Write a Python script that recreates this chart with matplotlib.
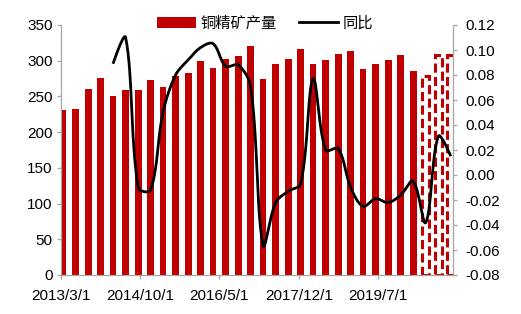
import matplotlib
matplotlib.use("Agg")
import matplotlib.pyplot as plt
import matplotlib.dates as mdates
import numpy as np
import pandas as pd
from matplotlib.patches import Patch
from matplotlib.lines import Line2D

plt.rcParams["font.family"] = ["Liberation Sans", "Noto Sans CJK SC"]

# quarterly copper concentrate output (last 3 quarters = forecast, dashed)
quarters = pd.date_range("2013-03-01", "2020-12-01", freq="3MS")
output = [231, 233, 261, 276, 251, 259, 259, 273, 263, 279, 283, 300, 290, 303, 307, 320,
          274, 295, 303, 317, 295, 301, 309, 314, 288, 295, 301, 308, 286,
          278, 308, 308]
n_actual = 29

# year-over-year change, starts one year after the first quarter
yoy_start = 4
yoy = [0.089, 0.110, -0.010, -0.012, 0.050, 0.080, 0.092, 0.102,
       0.105, 0.087, 0.088, 0.070, -0.056, -0.022, -0.013, -0.007,
       0.077, 0.020, 0.021, -0.010, -0.025, -0.019, -0.022, -0.016,
       -0.005, -0.038, 0.031, 0.015]

tick_dates = ["2013-03-01", "2014-10-01", "2016-05-01", "2017-12-01", "2019-07-01"]
left_ticks = [0, 50, 100, 150, 200, 250, 300, 350]
right_ticks = [-0.08, -0.06, -0.04, -0.02, 0.00, 0.02, 0.04, 0.06, 0.08, 0.10, 0.12]

RED = "#C00000"
GREY = "#A6A6A6"


def smooth(x, y, sx=1.0, sy=1.0, t=0.35, k=30):
    # bezier smoothing with control points weighted by segment length
    # (works in roughly pixel units so steep/flat parts behave like Excel)
    P = np.column_stack([np.asarray(x, float) * sx, np.asarray(y, float) * sy])
    n = len(P)
    c_in = P.copy()
    c_out = P.copy()
    for i in range(1, n - 1):
        d01 = np.hypot(*(P[i] - P[i - 1]))
        d12 = np.hypot(*(P[i + 1] - P[i]))
        tan = P[i + 1] - P[i - 1]
        c_in[i] = P[i] - t * d01 / (d01 + d12) * tan
        c_out[i] = P[i] + t * d12 / (d01 + d12) * tan
    u = np.linspace(0, 1, k, endpoint=False)[:, None]
    pts = []
    for i in range(n - 1):
        p0, p1, p2, p3 = P[i], c_out[i], c_in[i + 1], P[i + 1]
        pts.append((1 - u) ** 3 * p0 + 3 * (1 - u) ** 2 * u * p1
                   + 3 * (1 - u) * u ** 2 * p2 + u ** 3 * p3)
    pts.append(P[-1:])
    pts = np.vstack(pts)
    return pts[:, 0] / sx, pts[:, 1] / sy


fig = plt.figure(figsize=(5.21, 3.14), dpi=100)
ax = fig.add_axes([61 / 521, 1 - 275 / 314, (453 - 61) / 521, 250 / 314])
ax2 = ax.twinx()

# bars sit in the middle of their month on the date axis
xpos = mdates.date2num(quarters + pd.Timedelta(days=15))
ax.bar(xpos[:n_actual], output[:n_actual], width=49, color=RED, zorder=2)
ax.bar(xpos[n_actual:], output[n_actual:], width=49, fill=False, edgecolor=RED,
       linewidth=2.2, linestyle=(0, (3.0, 1.4)), zorder=2)

# pixel scale: ~0.137 px per day, 1250 px per unit of yoy
lx, ly = smooth(xpos[yoy_start:], yoy, sx=0.137, sy=1250)
ax2.plot(lx, ly, color="black", linewidth=2.0, solid_capstyle="butt")

ax.set_xlim(mdates.date2num(pd.Timestamp("2013-03-01")),
            mdates.date2num(pd.Timestamp("2021-01-01")))
ax.set_ylim(0, 350)
ax2.set_ylim(-0.08, 0.12)

ticks = pd.to_datetime(tick_dates)
ax.set_xticks(mdates.date2num(ticks))
ax.set_xticklabels([f"{d.year}/{d.month}/{d.day}" for d in ticks])
ax.set_yticks(left_ticks)
ax2.set_yticks(right_ticks)
ax2.set_yticklabels([f"{v:.2f}" for v in right_ticks])

for a in (ax, ax2):
    a.spines["top"].set_visible(False)
    for s in ("left", "right", "bottom"):
        a.spines[s].set_color(GREY)
        a.spines[s].set_linewidth(0.9)
    a.tick_params(colors=GREY, labelcolor="black", labelsize=11, length=3, width=0.9)
ax.spines["right"].set_visible(False)
ax2.spines["left"].set_visible(False)
ax2.spines["bottom"].set_visible(False)
ax.tick_params(axis="y", pad=3)
ax.tick_params(axis="x", pad=7)
ax2.tick_params(axis="y", pad=6)

handles = [Patch(facecolor=RED, edgecolor="none"),
           Line2D([], [], color="black", linewidth=2.0)]
fig.legend(handles, ["铜精矿产量", "同比"], loc="center",
           bbox_to_anchor=(265 / 521, 1 - 23 / 314), ncol=2, frameon=False,
           prop={"family": ["Noto Sans CJK SC"], "size": 11},
           handlelength=2.6, handletextpad=0.3, columnspacing=1.4)

fig.savefig("out.png", dpi=100)
